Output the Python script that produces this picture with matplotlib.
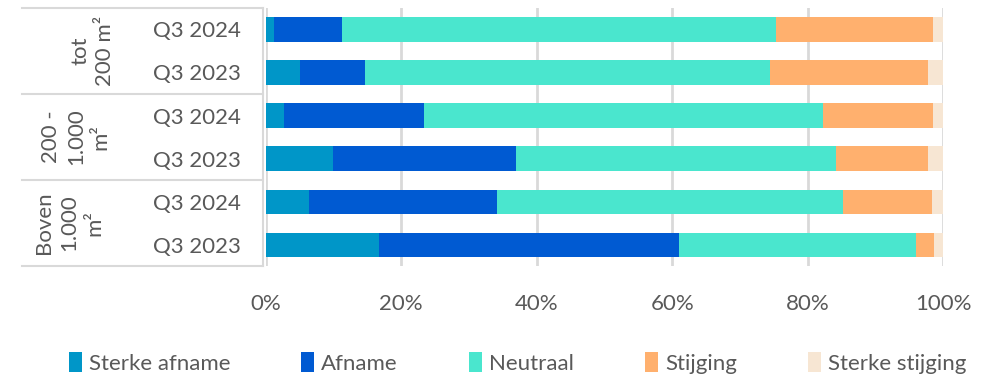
import matplotlib
matplotlib.use("Agg")
import matplotlib.pyplot as plt
from matplotlib.lines import Line2D
from matplotlib.patches import Patch
import numpy as np

plt.rcParams['font.family'] = ['Lato', 'DejaVu Sans']
plt.rcParams['font.weight'] = 'normal'

row_labels = ["Q3 2024", "Q3 2023", "Q3 2024", "Q3 2023", "Q3 2024", "Q3 2023"]
group_labels = ["tot\n200 m²", "200 -\n1.000\nm²", "Boven\n1.000\nm²"]
series_names = ["Sterke afname", "Afname", "Neutraal", "Stijging", "Sterke stijging"]
sterke_afname = [1.3, 5.1, 2.7, 10.0, 6.4, 16.7]
afname = [10.0, 9.6, 20.6, 26.9, 27.8, 44.3]
neutraal = [64.0, 59.7, 59.0, 47.3, 51.0, 35.0]
stijging = [23.2, 23.4, 16.2, 13.6, 13.2, 2.6]
sterke_stijging = [1.5, 2.2, 1.5, 2.2, 1.6, 1.4]
colors = ["#0096C8", "#005AD2", "#4AE6CE", "#FFB06E", "#F7E6D3"]

series = [sterke_afname, afname, neutraal, stijging, sterke_stijging]

txt = "#595959"
fs = 16

fig = plt.figure(figsize=(9.95, 3.78), dpi=100)
ax = fig.add_axes([0.267, 0.296, 0.681, 0.683])

y = np.arange(len(row_labels))
left = np.zeros(len(row_labels))
for vals, c, name in zip(series, colors, series_names):
    ax.barh(y, vals, left=left, height=0.56, color=c, label=name, zorder=3)
    left += np.array(vals)

ax.set_xlim(0, 100)
ax.set_ylim(5.5, -0.5)
ax.set_xticks([0, 20, 40, 60, 80, 100])
ax.set_xticklabels(["0%", "20%", "40%", "60%", "80%", "100%"])
ax.set_yticks(y)
ax.set_yticklabels(row_labels)
for s in ax.spines.values():
    s.set_visible(False)
ax.tick_params(axis='both', length=0, labelsize=fs, labelcolor=txt)
ax.tick_params(axis='y', pad=18)
ax.tick_params(axis='x', pad=20)
ax.grid(axis='x', color="#d9d9d9", lw=2, zorder=0)

tr = ax.get_yaxis_transform()
lc = "#d9d9d9"
for yy in [-0.5, 1.5, 3.5, 5.5]:
    ax.add_line(Line2D([-0.359, -0.004], [yy, yy], transform=tr, color=lc, lw=1.5, clip_on=False))
ax.add_line(Line2D([-0.004, -0.004], [-0.5, 5.5], transform=tr, color=lc, lw=1.5, clip_on=False))

group_x = [-0.255, -0.280, -0.290]
group_y = [0.5, 2.5, 4.5]
for lab, gx, gy in zip(group_labels, group_x, group_y):
    ax.text(gx, gy, lab, transform=tr, rotation=90, ha='center', va='center',
            multialignment='center', fontsize=fs, color=txt, linespacing=1.3)

handles = [Patch(facecolor=c, label=n) for c, n in zip(colors, series_names)]
fig.legend(handles=handles, loc='center', bbox_to_anchor=(0.52, 0.04), ncol=5,
           frameon=False, fontsize=fs, handlelength=0.6, handleheight=1.0,
           handletextpad=0.3, columnspacing=3.2, labelcolor=txt)

fig.savefig("out.png", dpi=100)
